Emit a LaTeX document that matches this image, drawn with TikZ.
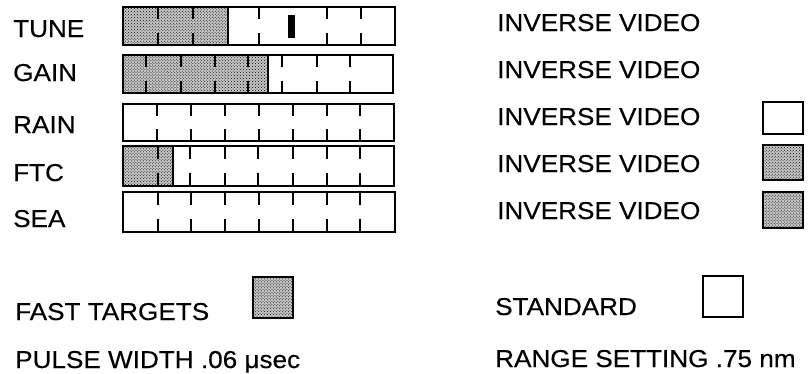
\documentclass[tikz,border=0pt]{standalone}
\usepackage{fontspec}
\setmainfont[FakeStretch=1.07,FakeBold=0.3]{Liberation Sans}
\usetikzlibrary{patterns}
\newcommand\tickset[3]{%
  \foreach \xx in {#3} {
    \draw[tickline] (\xx,#1) -- (\xx,{#1+0.32*(#2-#1)});
    \draw[tickline] (\xx,{#2-0.32*(#2-#1)}) -- (\xx,#2);
  }}
\begin{document}
\begin{tikzpicture}[x=1bp,y=-1bp,
  lbl/.style={anchor=base west, inner sep=0pt, font=\fontsize{24.5}{28}\selectfont},
  barframe/.style={draw, line width=2.8bp},
  tickline/.style={line width=2.2bp},
  shaded/.style={fill=black!22, postaction={pattern=crosshatch dots, pattern color=black}},
  swatch/.style={draw, line width=2.8bp}]
\useasboundingbox (0,0) rectangle (808,373);

% labels left
\node[lbl] (tune) at (13,37) {TUNE};
\node[lbl] (gain) at (13,81) {GAIN};
\node[lbl] (rain) at (13,133) {RAIN};
\node[lbl] (ftc)  at (13,181) {FTC};
\node[lbl] (sea)  at (13,227) {SEA};

% TUNE bar
\fill[shaded] (123,7) rectangle (228,45);
\draw[barframe] (123,7) rectangle (228,45);
\draw[barframe] (123,7) rectangle (395,45);
\tickset{7}{45}{158,193,259,327,361}
\fill (288,15) rectangle (295,38);

% GAIN bar
\fill[shaded] (123,55) rectangle (268,93);
\draw[barframe] (123,55) rectangle (268,93);
\draw[barframe] (123,55) rectangle (393,93);
\tickset{55}{93}{146,181,215,248,282,317,350}

% RAIN bar
\draw[barframe] (123,104) rectangle (394,141);
\tickset{104}{141}{157,191,225,259,293,327,360}

% FTC bar
\fill[shaded] (123,146) rectangle (173,186);
\draw[barframe] (123,146) rectangle (173,186);
\draw[barframe] (123,146) rectangle (394,186);
\tickset{146}{186}{158,190,225,258,293,327,360}

% SEA bar
\draw[barframe] (123,192) rectangle (395,232);
\tickset{192}{232}{158,191,225,259,293,327,360}

% right column
\node[lbl] (iv1) at (497,31) {INVERSE VIDEO};
\node[lbl] (iv2) at (497,78) {INVERSE VIDEO};
\node[lbl] (iv3) at (497,125) {INVERSE VIDEO};
\node[lbl] (iv4) at (497,172) {INVERSE VIDEO};
\node[lbl] (iv5) at (497,219) {INVERSE VIDEO};

\draw[swatch] (763,102) rectangle (803,134);
\draw[swatch, shaded] (763,145) rectangle (803,180);
\draw[swatch, shaded] (763,192) rectangle (803,228);

% bottom
\node[lbl] (fast) at (15,320) {FAST TARGETS};
\draw[swatch, shaded] (253,277) rectangle (293,318);
\node[lbl] (pulse) at (15,368) {PULSE WIDTH .06 μsec};

\node[lbl] (std) at (495,315) {STANDARD};
\draw[swatch] (703,276) rectangle (743,317);
\node[lbl] (range) at (495,367) {RANGE SETTING .75 nm};
\end{tikzpicture}
\end{document}
